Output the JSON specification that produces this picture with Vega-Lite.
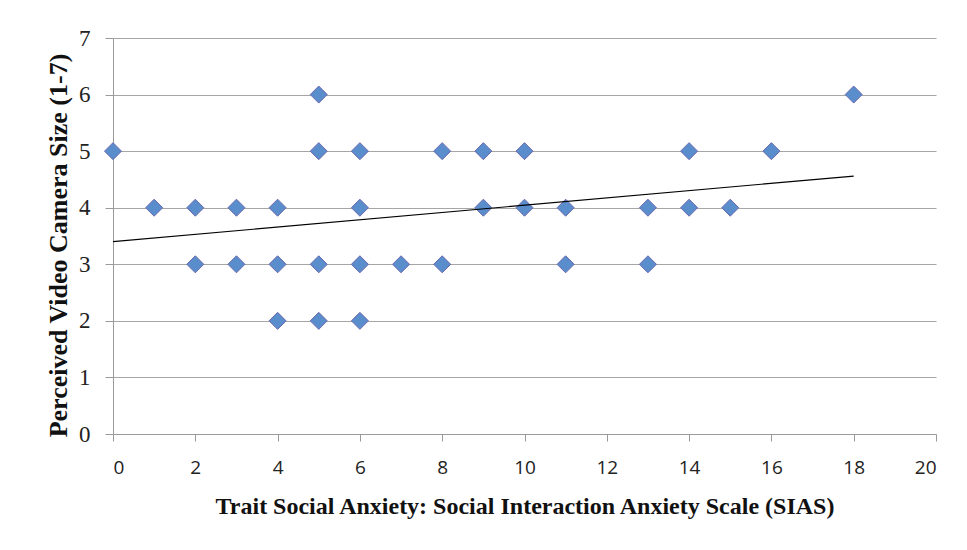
{
  "$schema": "https://vega.github.io/schema/vega-lite/v6.json",
  "width": 823,
  "height": 396,
  "autosize": "none",
  "padding": {"left": 113, "top": 38, "right": 31, "bottom": 116},
  "background": "white",
  "config": {"view": {"stroke": null}},
  "datasets": {
    "points": [
      {"sias": 0, "size": 5},
      {"sias": 1, "size": 4},
      {"sias": 2, "size": 4},
      {"sias": 2, "size": 3},
      {"sias": 3, "size": 4},
      {"sias": 3, "size": 3},
      {"sias": 4, "size": 4},
      {"sias": 4, "size": 3},
      {"sias": 4, "size": 2},
      {"sias": 5, "size": 6},
      {"sias": 5, "size": 5},
      {"sias": 5, "size": 3},
      {"sias": 5, "size": 2},
      {"sias": 6, "size": 5},
      {"sias": 6, "size": 4},
      {"sias": 6, "size": 3},
      {"sias": 6, "size": 2},
      {"sias": 7, "size": 3},
      {"sias": 8, "size": 5},
      {"sias": 8, "size": 3},
      {"sias": 9, "size": 5},
      {"sias": 9, "size": 4},
      {"sias": 10, "size": 5},
      {"sias": 10, "size": 4},
      {"sias": 11, "size": 4},
      {"sias": 11, "size": 3},
      {"sias": 13, "size": 4},
      {"sias": 13, "size": 3},
      {"sias": 14, "size": 5},
      {"sias": 14, "size": 4},
      {"sias": 15, "size": 4},
      {"sias": 16, "size": 5},
      {"sias": 18, "size": 6}
    ],
    "trend": [
      {"sias": 0, "size": 3.4},
      {"sias": 18, "size": 4.56}
    ]
  },
  "layer": [
    {
      "data": {"name": "points"},
      "mark": {"type": "point", "shape": "diamond", "filled": true, "size": 290, "fill": "#5A8DCC", "stroke": "#6A68AE", "strokeWidth": 1, "opacity": 1},
      "encoding": {
        "x": {
          "field": "sias", "type": "quantitative",
          "scale": {"domain": [0, 20], "nice": false, "zero": true},
          "axis": {
            "values": [0, 2, 4, 6, 8, 10, 12, 14, 16, 18, 20],
            "format": "d",
            "grid": false,
            "tickSize": 7,
            "tickColor": "#9A9A9A",
            "domainColor": "#9A9A9A",
            "labelFont": "Open Sans",
            "labelFontSize": 19,
            "labelColor": "#222222",
            "labelBaseline": "alphabetic",
            "labelPadding": 32,
            "title": "Trait Social Anxiety: Social Interaction Anxiety Scale (SIAS)",
            "titleFont": "Liberation Serif",
            "titleFontSize": 24,
            "titleFontWeight": "bold",
            "titleColor": "#111111",
            "titleBaseline": "alphabetic",
            "titleY": 79
          }
        },
        "y": {
          "field": "size", "type": "quantitative",
          "scale": {"domain": [0, 7], "nice": false},
          "axis": {
            "values": [0, 1, 2, 3, 4, 5, 6, 7],
            "format": "d",
            "grid": true,
            "gridColor": "#A6A6A6",
            "tickSize": 8,
            "tickColor": "#9A9A9A",
            "domainColor": "#9A9A9A",
            "labelFont": "Liberation Serif",
            "labelFontSize": 23,
            "labelColor": "#222222",
            "labelPadding": 15,
            "title": "Perceived Video Camera Size (1-7)",
            "titleFont": "Liberation Serif",
            "titleFontSize": 26,
            "titleFontWeight": "bold",
            "titleColor": "#111111",
            "titleBaseline": "middle",
            "titleAlign": "center",
            "titleX": -55,
            "titleY": 207
          }
        }
      }
    },
    {
      "data": {"name": "trend"},
      "mark": {"type": "line", "color": "#000000", "strokeWidth": 1.2},
      "encoding": {
        "x": {"field": "sias", "type": "quantitative"},
        "y": {"field": "size", "type": "quantitative"}
      }
    }
  ]
}
